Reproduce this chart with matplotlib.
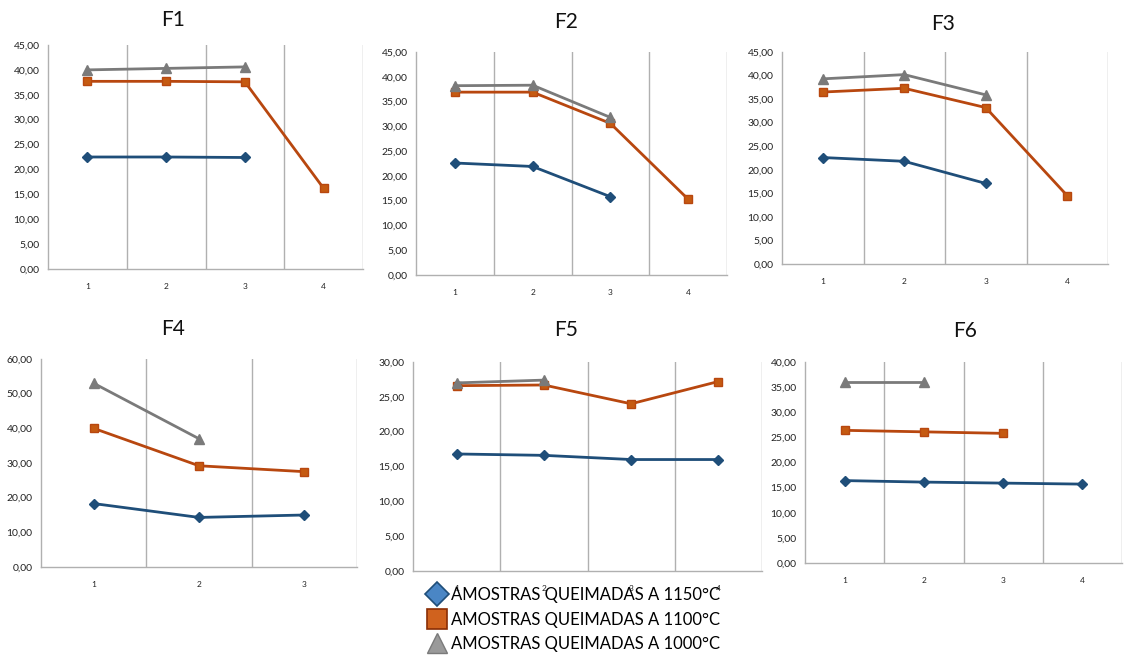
import numpy as np
import matplotlib
matplotlib.use("Agg")
import matplotlib.pyplot as plt
from matplotlib.lines import Line2D
from matplotlib.ticker import FuncFormatter, MultipleLocator

plt.rcParams['font.family'] = ['Lato', 'DejaVu Sans']

nan = np.nan

# Values per formulation (F1..F6); nan where a sample was not measured
panels = ["F1", "F2", "F3", "F4", "F5", "F6"]
categories = {
    "F1": [1, 2, 3, 4],
    "F2": [1, 2, 3, 4],
    "F3": [1, 2, 3, 4],
    "F4": [1, 2, 3],
    "F5": [1, 2, 3, 4],
    "F6": [1, 2, 3, 4],
}
t1150 = {
    "F1": [22.5, 22.5, 22.4, nan],
    "F2": [22.6, 21.9, 15.8, nan],
    "F3": [22.6, 21.8, 17.1, nan],
    "F4": [18.3, 14.3, 15.0],
    "F5": [16.8, 16.6, 16.0, 16.0],
    "F6": [16.4, 16.1, 15.9, 15.7],
}
t1100 = {
    "F1": [37.7, 37.7, 37.6, 16.2],
    "F2": [36.9, 36.9, 30.6, 15.3],
    "F3": [36.5, 37.3, 33.2, 14.5],
    "F4": [40.0, 29.2, 27.5],
    "F5": [26.6, 26.7, 24.0, 27.2],
    "F6": [26.4, 26.1, 25.8, nan],
}
t1000 = {
    "F1": [40.0, 40.3, 40.6, nan],
    "F2": [38.2, 38.3, 31.8, nan],
    "F3": [39.3, 40.2, 35.9, nan],
    "F4": [53.0, 37.0, nan],
    "F5": [27.0, 27.4, nan, nan],
    "F6": [36.0, 36.0, nan, nan],
}
y_max = {"F1": 45, "F2": 45, "F3": 45, "F4": 60, "F5": 30, "F6": 40}
y_step = {"F1": 5, "F2": 5, "F3": 5, "F4": 10, "F5": 5, "F6": 5}

legend_labels = ["AMOSTRAS QUEIMADAS A 1150°C",
                 "AMOSTRAS QUEIMADAS A 1100°C",
                 "AMOSTRAS QUEIMADAS A 1000°C"]

W, H = 1126, 655
fig = plt.figure(figsize=(W / 100, H / 100), dpi=100)

# plot boxes in pixels: left, right, top, bottom
boxes = {
    "F1": (48, 363, 45, 269),
    "F2": (416, 727, 52, 275),
    "F3": (782, 1108, 52, 264),
    "F4": (41, 357, 359, 567),
    "F5": (413, 762, 362, 571),
    "F6": (805, 1122, 362, 563),
}
titles_xy = {
    "F1": (173, 20), "F2": (566, 22), "F3": (943, 24),
    "F4": (173, 329), "F5": (566, 330), "F6": (965, 331),
}

C_BLUE = "#1F4E79"
C_ORANGE = "#B8470F"
C_GRAY = "#7A7A7A"
C_GRID = "#B0B0B0"

fmt = FuncFormatter(lambda v, p: f"{v:.2f}".replace(".", ","))

for name in panels:
    l, r, t, b = boxes[name]
    ax = fig.add_axes([l / W, 1 - b / H, (r - l) / W, (b - t) / H])
    x = categories[name]
    n = len(x)
    ax.plot(x, t1150[name], color=C_BLUE, lw=2.0, marker="D", ms=5.5,
            mfc=C_BLUE, mec=C_BLUE, zorder=3)
    ax.plot(x, t1100[name], color=C_ORANGE, lw=2.0, marker="s", ms=6,
            mfc="#C55A11", mec=C_ORANGE, zorder=3)
    ax.plot(x, t1000[name], color=C_GRAY, lw=2.0, marker="^", ms=7,
            mfc=C_GRAY, mec=C_GRAY, zorder=4)

    ax.set_xlim(0.5, n + 0.5)
    ax.set_ylim(0, y_max[name])
    ax.yaxis.set_major_locator(MultipleLocator(y_step[name]))
    ax.yaxis.set_major_formatter(fmt)
    ax.set_xticks(x)
    ax.set_xticklabels([str(v) for v in x])
    for xv in np.arange(1.5, n + 1, 1.0):
        ax.axvline(xv, color=C_GRID, lw=1.0, zorder=1)
    for s in ["top", "right"]:
        ax.spines[s].set_visible(False)
    for s in ["left", "bottom"]:
        ax.spines[s].set_color(C_GRID)
        ax.spines[s].set_linewidth(1.0)
    ax.tick_params(axis="both", length=0, colors="#222222")
    ax.tick_params(axis="y", labelsize=7.5, pad=6)
    ax.tick_params(axis="x", labelsize=6, pad=10)
    ax.set_facecolor("none")

    tx, ty = titles_xy[name]
    fig.text(tx / W, 1 - ty / H, name, ha="center", va="center",
             fontsize=15, color="#111111")

handles = [
    Line2D([], [], ls="none", marker="D", ms=12, mfc="#4A86C5", mec=C_BLUE, mew=1.2),
    Line2D([], [], ls="none", marker="s", ms=14, mfc="#D0621E", mec="#8A2E05", mew=1.2),
    Line2D([], [], ls="none", marker="^", ms=15, mfc="#9A9A9A", mec="#7A7A7A", mew=1.0),
]
fig.legend(handles, legend_labels, loc="upper left",
           bbox_to_anchor=(420 / W, 1 - 579 / H), frameon=False,
           fontsize=12, handlelength=1.0, handletextpad=0.35,
           labelspacing=0.5, borderpad=0.0)

fig.savefig("out.png", dpi=100, facecolor="white")
